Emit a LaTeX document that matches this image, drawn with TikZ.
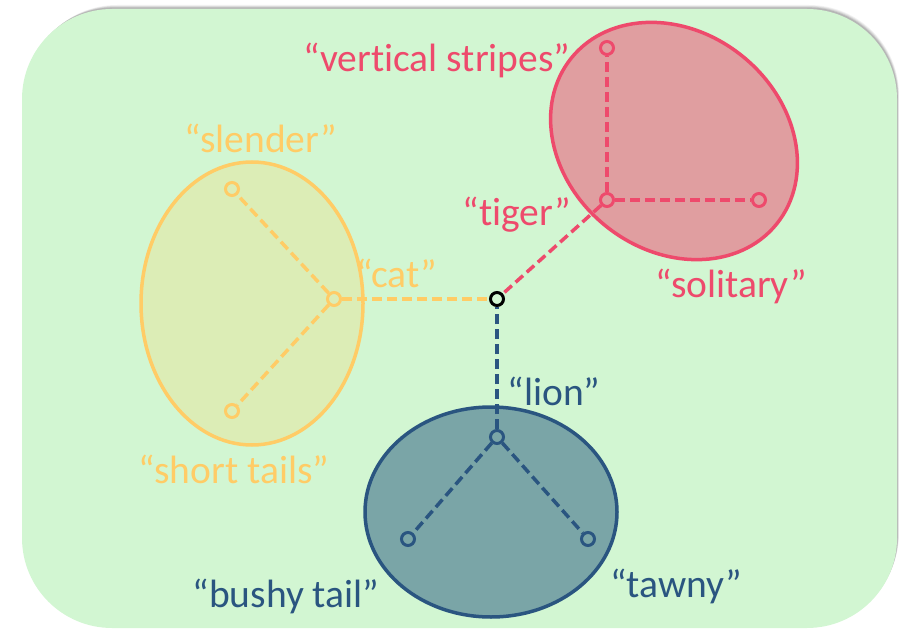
\documentclass[tikz,border=0pt]{standalone}
\usepackage{fontspec}
\setmainfont{Carlito}[Ligatures=NoCommon]
\definecolor{bggreen}{RGB}{210,246,210}
\definecolor{redline}{RGB}{238,74,108}
\definecolor{redfill}{RGB}{224,158,160}
\definecolor{yelline}{RGB}{255,204,102}
\definecolor{yelfill}{RGB}{220,237,182}
\definecolor{blueline}{RGB}{42,85,128}
\definecolor{bluefill}{RGB}{122,165,167}
\tikzset{
  dot/.style={circle,draw,line width=3pt,inner sep=0pt,minimum size=13pt,fill=none},
  link/.style={line width=3.5pt,dash pattern=on 10pt off 5pt},
  blob/.style={line width=3.5pt},
  lbl/.style={font=\fontsize{39.5}{42}\selectfont,anchor=base,inner sep=0pt}
}
\begin{document}
\begin{tikzpicture}[x=1pt,y=1pt]
\useasboundingbox (0,0) rectangle (899,630);
% shadow (up and right)
\foreach \o/\op in {5/0.05,4/0.07,3/0.09,2/0.11}{
  \fill[black,opacity=\op,rounded corners=90pt] (22+\o,2+\o) rectangle (897+\o*0.4,621+\o*0.8);
}
% background
\fill[bggreen,rounded corners=90pt] (22,2) rectangle (897,621);
% ellipses
\draw[blob,draw=yelline,fill=yelfill] (252,326.5) ellipse [x radius=111, y radius=141.5];
\draw[blob,draw=redline,fill=redfill,rotate around={-39:(674,489)}] (674,489) ellipse [x radius=132, y radius=109];
\draw[blob,draw=blueline,fill=bluefill] (491,118) ellipse [x radius=126, y radius=105];
% nodes
\node[dot,draw=black] (c) at (497,331) {};
\node[dot,draw=yelline] (cat) at (334,331) {};
\node[dot,draw=yelline] (slender) at (232,441) {};
\node[dot,draw=yelline] (short) at (232,219) {};
\node[dot,draw=redline] (tiger) at (607,430) {};
\node[dot,draw=redline] (vs) at (607,582) {};
\node[dot,draw=redline] (sol) at (759,430) {};
\node[dot,draw=blueline] (lion) at (497,193) {};
\node[dot,draw=blueline] (bushy) at (408,91) {};
\node[dot,draw=blueline] (tawny) at (588,91) {};
% links
\draw[link,yelline] (cat) -- (c);
\draw[link,yelline] (cat) -- (slender);
\draw[link,yelline] (cat) -- (short);
\draw[link,redline] (tiger) -- (c);
\draw[link,redline] (tiger) -- (vs);
\draw[link,redline] (tiger) -- (sol);
\draw[link,blueline] (lion) -- (c);
\draw[link,blueline] (lion) -- (bushy);
\draw[link,blueline] (lion) -- (tawny);
% labels
\node[lbl,text=redline] (lvs) at (437,558) {“vertical stripes”};
\node[lbl,text=redline] (ltiger) at (517,404) {“tiger”};
\node[lbl,text=redline] (lsol) at (731,332) {“solitary”};
\node[lbl,text=yelline] (lslender) at (261,477) {“slender”};
\node[lbl,text=yelline] (lcat) at (397,342) {“cat”};
\node[lbl,text=yelline] (lshort) at (234,147) {“short tails”};
\node[lbl,text=blueline] (llion) at (554,225) {“lion”};
\node[lbl,text=blueline] (lbushy) at (286,23) {“bushy tail”};
\node[lbl,text=blueline] (ltawny) at (676,33) {“tawny”};
\end{tikzpicture}
\end{document}
